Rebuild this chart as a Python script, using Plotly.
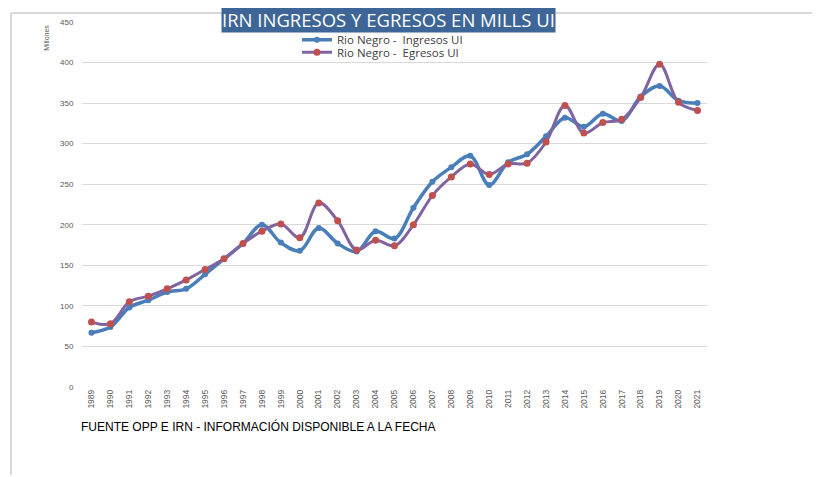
import plotly.graph_objects as go

years = [str(y) for y in range(1989, 2022)]
ingresos = [67, 74, 98, 107, 117, 121, 139, 158, 177, 200,
            178, 168, 196, 177, 167, 192, 183, 221, 253, 271,
            285, 249, 277, 287, 309, 332, 321, 337, 328, 358,
            371, 353, 350]
egresos = [80, 78, 105, 112, 121, 132, 145, 158, 177, 192,
           201, 184, 227, 205, 169, 181, 174, 200, 236, 259,
           275, 262, 275, 276, 302, 347, 313, 326, 330, 357,
           398, 351, 341]
y_ticks = list(range(0, 451, 50))

# page is offset by the 8px body margin
OFF = 8
W, H = 820 - OFF, 477 - OFF
PL, PR, PT, PB = 82, 707, 18, 387          # plot area in page pixels
L, R, T, B = PL - OFF, 820 - PR, PT - OFF, 477 - PB
pw, ph = PR - PL, PB - PT


def px(x):
    return (x - PL) / pw


def py(y):
    return (PB - y) / ph


fig = go.Figure()
fig.add_trace(go.Scatter(
    x=years, y=ingresos, name="Rio Negro -  Ingresos UI",
    mode="lines+markers", line=dict(color="#4A7EBB", width=3.5, shape="spline", smoothing=1),
    marker=dict(color="#4A7EBB", size=6), legend="legend"))
fig.add_trace(go.Scatter(
    x=years, y=egresos, name="Rio Negro -  Egresos UI",
    mode="lines+markers", line=dict(color="#8064A2", width=3, shape="spline", smoothing=1),
    marker=dict(color="#C0504D", size=7), legend="legend2"))

legend_common = dict(font=dict(family="Open Sans", size=11.5, color="#404040"),
                     bgcolor="rgba(0,0,0,0)", itemwidth=30,
                     xanchor="left", yanchor="middle")

fig.update_layout(
    width=W, height=H,
    margin=dict(l=L, r=R, t=T, b=B, pad=0),
    paper_bgcolor="white", plot_bgcolor="white",
    showlegend=True,
    legend=dict(x=px(297), y=py(36), **legend_common),
    legend2=dict(x=px(297), y=py(48.5), **legend_common),
    xaxis=dict(type="category", range=[-0.5, len(years) - 0.5],
               tickangle=-90, tickfont=dict(family="Liberation Sans", size=8.5, color="#595959"),
               showgrid=False, showline=False, ticks=""),
    yaxis=dict(range=[0, 450], tickvals=y_ticks, showgrid=True, gridcolor="#D9D9D9", gridwidth=1,
               tickfont=dict(family="Liberation Sans", size=8, color="#595959"),
               zeroline=False, ticks="outside", ticklen=6, tickcolor="rgba(0,0,0,0)"),
    annotations=[
        dict(text="IRN INGRESOS Y EGRESOS EN MILLS UI", xref="paper", yref="paper",
             x=px(388), y=py(15), xanchor="center", yanchor="middle", showarrow=False,
             font=dict(family="Open Sans", size=18.5, color="white"), bgcolor="#3E6597", borderpad=0),
        dict(text="Millones", xref="paper", yref="paper", x=px(47), y=py(34),
             xanchor="center", yanchor="middle", textangle=-90, showarrow=False,
             font=dict(family="Liberation Sans", size=7, color="#595959")),
        dict(text="FUENTE OPP E IRN - INFORMACIÓN DISPONIBLE A LA FECHA", xref="paper", yref="paper",
             x=px(79), y=py(427), xanchor="left", yanchor="middle", showarrow=False,
             font=dict(family="Liberation Sans", size=12, color="#000000")),
    ],
    shapes=[
        dict(type="line", xref="paper", yref="paper", x0=px(11), x1=px(820), y0=py(9), y1=py(9),
             line=dict(color="#D9D9D9", width=2)),
        dict(type="line", xref="paper", yref="paper", x0=px(11), x1=px(11), y0=py(9), y1=py(476),
             line=dict(color="#D9D9D9", width=2)),
    ],
)

fig.write_html("out.html")
